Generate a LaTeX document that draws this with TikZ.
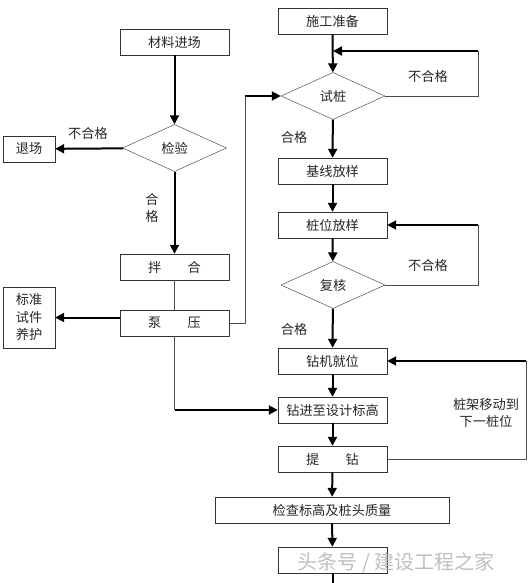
\documentclass[tikz,border=0pt]{standalone}
\usepackage{fontspec}
\setmainfont{Noto Sans CJK SC}
\usetikzlibrary{shapes.geometric,arrows.meta}
\begin{document}
\begin{tikzpicture}[x=1pt,y=-1pt,font=\fontsize{13.2}{17.5}\selectfont,text=black!85]
        \tikzstyle{proc}=[draw=black!80,thin,minimum width=109pt,minimum height=26pt,inner sep=0pt]
        \tikzstyle{check}=[diamond,draw=black!80,thin,minimum width=104pt,minimum height=47pt,inner sep=0pt]
        \tikzstyle{flow}=[draw,line width=2pt,-{Triangle[length=9pt,width=9pt]}]
        \tikzstyle{link}=[draw=black!70,line width=0.9pt]
        \useasboundingbox (0,0) rectangle (529,583);
       \begin{scope}
         % material side
         \node [proc] (cljc) at (174.5,42) {材料进场};
         \node [check] (jy) at (174.5,148) {检验};
         \node [proc,minimum width=52pt] (tc) at (29,149) {退场};
         \node [proc] (bh) at (174.5,267) {拌\hspace{2em}合};
         \node [proc] (by) at (174.5,323) {泵\hspace{2em}压};
         \node [proc,minimum width=52pt,minimum height=61pt,align=center] (yh) at (29,317.5) {标准\\试件\\养护};
         % pile side
         \node [proc] (sgzb) at (332.5,21) {施工准备};
         \node [check] (sz) at (333,96) {试桩};
         \node [proc] (jxfy) at (332.5,171) {基线放样};
         \node [proc] (zwfy) at (332.5,225) {桩位放样};
         \node [check] (fh) at (333,285) {复核};
         \node [proc] (zjjw) at (332.5,361) {钻机就位};
         \node [proc] (zjbg) at (332.5,410) {钻进至设计标高};
         \node [proc] (tz) at (332.5,459) {提\hspace{2em}钻};
         \node [proc,minimum width=234pt] (jc) at (332,510) {检查标高及桩头质量};
         \node [proc] (cz) at (332.5,560) {};
         \coordinate (end) at (332.5,583);
         % corners
         \coordinate (c1) at (245,96);
         \coordinate (c2) at (174.5,410);
         \coordinate (r1) at (478,51);
         \coordinate (r2) at (478,225);
         \coordinate (r3) at (526,361);
         % labels
         \node (ng1) at (88,133) {不合格};
         \node [align=center] (ok1) at (152,208) {合\\格};
         \node (ng2) at (428,76) {不合格};
         \node (ok2) at (294,137) {合格};
         \node (ng3) at (428,265) {不合格};
         \node (ok3) at (294,329) {合格};
         \node [align=center] (mv) at (486,413) {桩架移动到\\下一桩位};
         \node [text=black!25,font=\fontsize{20}{22}\selectfont] (wm) at (396,563) {头条号 / 建设工程之家};
         % edges
         \path[flow] (cljc) -- (jy);
         \path[flow] (jy) -- (tc);
         \path[flow] (jy) -- (bh);
         \draw[link] (bh) -- (by);
         \path[flow] (by.west |- yh.east) -- (yh.east);
         \draw[link] (by.east) -| (c1);
         \path[flow] (c1) -- (sz.west);
         \draw[link] (by.south) -- (c2);
         \path[flow] (c2) -- (zjbg.west);
         \path[flow] (sgzb) -- (sz);
         \draw[link] (sz.east) -| (r1);
         \path[flow] (r1) -- (r1 -| sz.north);
         \path[flow] (sz) -- (jxfy);
         \path[flow] (jxfy) -- (zwfy);
         \path[flow] (zwfy) -- (fh);
         \draw[link] (fh.east) -| (r2);
         \path[flow] (r2) -- (zwfy.east);
         \path[flow] (fh) -- (zjjw);
         \path[flow] (zjjw) -- (zjbg);
         \path[flow] (zjbg) -- (tz);
         \draw[link] (tz.east) -| (r3);
         \path[flow] (r3) -- (zjjw.east);
         \path[flow] (tz) -- (jc);
         \path[flow] (jc) -- (cz);
         \draw[line width=2pt] (cz) -- (end);
        \end{scope}
      \end{tikzpicture}
\end{document}
